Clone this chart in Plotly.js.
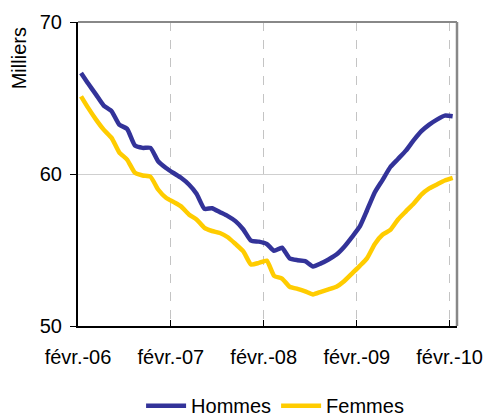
<!DOCTYPE html>
<html>
<head>
<meta charset="utf-8">
<script src="https://cdn.plot.ly/plotly-3.0.1.min.js"></script>
<style>html,body{margin:0;padding:0;background:#fff;}#chart{width:488px;height:417px;}</style>
</head>
<body>
<div id="chart"></div>
<script>
// Monthly series, février 2006 -> février 2010 (milliers)
var startYear = 2006, startMonth = 2;
var hommes = [66.65, 65.95, 65.22, 64.50, 64.13, 63.25, 62.97, 61.87, 61.72, 61.72, 60.84, 60.40,
  60.05, 59.75, 59.31, 58.70, 57.71, 57.75, 57.49, 57.23, 56.90, 56.35, 55.62, 55.55,
  55.40, 54.95, 55.15, 54.45, 54.33, 54.27, 53.92, 54.12, 54.38, 54.70, 55.20, 55.85,
  56.55, 57.60, 58.80, 59.60, 60.46, 60.99, 61.54, 62.23, 62.82, 63.25, 63.58, 63.84,
  63.80];
var femmes = [65.11, 64.35, 63.58, 62.92, 62.38, 61.43, 60.95, 60.08, 59.90, 59.82, 58.98, 58.44,
  58.15, 57.87, 57.34, 57.01, 56.46, 56.25, 56.12, 55.84, 55.40, 54.91, 54.05, 54.15,
  54.30, 53.30, 53.12, 52.58, 52.44, 52.28, 52.08, 52.25, 52.41, 52.58, 52.94, 53.45,
  53.96, 54.45, 55.40, 56.00, 56.32, 57.01, 57.54, 58.06, 58.65, 59.05, 59.31, 59.57,
  59.74];
var tickDates = ['2006-02-01', '2007-02-01', '2008-02-01', '2009-02-01', '2010-02-01'];
var tickLabels = ['févr.-06', 'févr.-07', 'févr.-08', 'févr.-09', 'févr.-10'];
var yTicks = [50, 60, 70];
var seriesNames = ['Hommes', 'Femmes'];
var seriesColors = ['#333399', '#FFCC00'];

function pad(n) { return (n < 10 ? '0' : '') + n; }
var dates = [];
for (var i = 0; i < hommes.length; i++) {
  var m = startMonth - 1 + i;
  var y = startYear + Math.floor(m / 12);
  dates.push(y + '-' + pad(m % 12 + 1) + '-13');
}

var font = {family: 'Liberation Sans, Arial, sans-serif', size: 20, color: '#000'};

var traces = [hommes, femmes].map(function (vals, k) {
  return {
    x: dates, y: vals, type: 'scatter', mode: 'lines', name: seriesNames[k],
    line: {color: seriesColors[k], width: 4.5, shape: 'spline', smoothing: 0.5},
    hoverinfo: 'skip'
  };
});

var layout = {
  width: 488, height: 417,
  margin: {l: 78, r: 31, t: 22, b: 91, autoexpand: false},
  paper_bgcolor: '#fff', plot_bgcolor: '#fff',
  font: font,
  showlegend: true,
  legend: {orientation: 'h', x: 0.52, xanchor: 'center', y: -0.262, yanchor: 'middle',
    font: font, itemwidth: 40, tracegroupgap: 0},
  xaxis: {
    type: 'date', range: ['2006-02-01', '2010-03-02'],
    tickmode: 'array', tickvals: tickDates, ticktext: tickLabels,
    ticks: 'inside', ticklen: 6, tickcolor: '#000', tickwidth: 1,
    showline: true, linecolor: '#000', linewidth: 2,
    showgrid: true, gridcolor: '#c4c4c4', griddash: 'dash', gridwidth: 1,
    zeroline: false, ticklabelshift: 3.5, ticklabelstandoff: 12,
    tickfont: font, automargin: false
  },
  yaxis: {
    range: [50, 70], tickmode: 'array', tickvals: yTicks,
    ticks: 'outside', ticklen: 6, tickcolor: '#000', tickwidth: 1,
    showline: true, linecolor: '#000', linewidth: 2,
    showgrid: true, gridcolor: '#cfcfcf', gridwidth: 1,
    zeroline: false, ticklabelstandoff: 4,
    tickfont: font, automargin: false
  },
  shapes: [
    {type: 'line', xref: 'paper', yref: 'paper', x0: 0, x1: 1, y0: 1, y1: 1,
      line: {color: '#888888', width: 2}},
    {type: 'line', xref: 'paper', yref: 'paper', x0: 1, x1: 1, y0: 0, y1: 1,
      line: {color: '#888888', width: 2.5}}
  ],
  annotations: [
    {text: 'Milliers', xref: 'paper', yref: 'paper', x: -0.155, y: 0.99, xanchor: 'center',
      yanchor: 'top', textangle: -90, showarrow: false, font: {family: font.family, size: 20, color: '#000'}}
  ]
};

Plotly.newPlot('chart', traces, layout, {displayModeBar: false, staticPlot: true});
</script>
</body>
</html>
